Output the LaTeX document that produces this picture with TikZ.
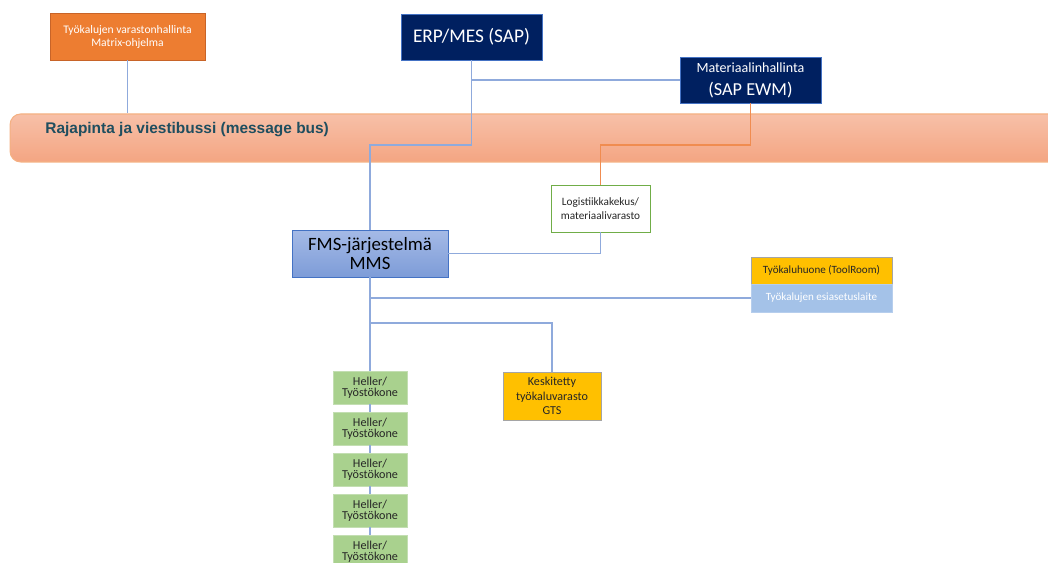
\documentclass[tikz,border=0pt]{standalone}
\usepackage{fontspec}
\setmainfont{Carlito}
\newfontfamily\busfont{Liberation Sans}
\usetikzlibrary{positioning,calc}

\definecolor{navy}{RGB}{0,32,96}
\definecolor{navyline}{RGB}{68,114,196}
\definecolor{matrixor}{RGB}{237,125,49}
\definecolor{matrixline}{RGB}{200,100,40}
\definecolor{linkblue}{RGB}{143,170,220}
\definecolor{linkor}{RGB}{240,140,80}
\definecolor{bustop}{RGB}{247,192,168}
\definecolor{busbot}{RGB}{244,165,130}
\definecolor{busline}{RGB}{244,177,131}
\definecolor{bustext}{RGB}{31,78,95}
\definecolor{fmstop}{RGB}{165,186,230}
\definecolor{fmsbot}{RGB}{125,156,216}
\definecolor{logiline}{RGB}{112,173,71}
\definecolor{toolyel}{RGB}{255,192,0}
\definecolor{graybd}{RGB}{165,165,165}
\definecolor{presetbl}{RGB}{164,194,232}
\definecolor{machgr}{RGB}{169,209,142}
\definecolor{machline}{RGB}{195,222,178}

\begin{document}
\begin{tikzpicture}[
  x=0.02cm, y=-0.02cm,
  box/.style={draw, line width=0.5pt, align=center, inner sep=1pt},
  sys/.style={box, fill=navy, draw=navyline, text=white, minimum width=2.82cm, minimum height=0.92cm},
  matrix box/.style={box, fill=matrixor, draw=matrixline, text=white, minimum width=3.1cm, minimum height=0.94cm,
    font=\fontsize{6.6}{7.4}\selectfont},
  bus/.style={draw=busline, line width=0.6pt, rounded corners=6pt, top color=bustop, bottom color=busbot,
    minimum width=21cm, minimum height=0.96cm},
  buslbl/.style={font=\busfont\bfseries\fontsize{8.8}{10}\selectfont, text=bustext, inner sep=0pt},
  logi/.style={box, fill=white, draw=logiline, text=black!85, minimum width=1.98cm, minimum height=0.94cm,
    font=\fontsize{6.4}{8}\selectfont},
  fms/.style={box, draw=navyline, top color=fmstop, bottom color=fmsbot, text=black, minimum width=3.12cm,
    minimum height=0.94cm, font=\fontsize{10.7}{10.4}\selectfont},
  tool/.style={box, fill=toolyel, draw=graybd, text=black!85, minimum width=2.82cm, minimum height=0.54cm,
    font=\fontsize{6.3}{7}\selectfont},
  preset/.style={box, fill=presetbl, draw=presetbl!80!white, text=white, minimum width=2.82cm, minimum height=0.56cm,
    font=\fontsize{6.3}{7}\selectfont},
  gts/.style={box, fill=toolyel, draw=graybd, text=black!85, minimum width=1.96cm, minimum height=0.96cm,
    font=\fontsize{6.9}{8.2}\selectfont},
  mach/.style={box, fill=machgr, draw=machline, text=black!85, minimum width=1.48cm, minimum height=0.66cm,
    font=\fontsize{6.9}{6.4}\selectfont},
  link/.style={draw=linkblue, line width=0.6pt},
  orlink/.style={draw=linkor, line width=0.6pt},
]
\useasboundingbox (0,0) rectangle (1048,563);
\clip (0,0) rectangle (1048,563);
% ---- message bus ----
\node[bus] (bus) at (535,138) {};
\node[buslbl, anchor=west] (buslabel) at (45,130) {Rajapinta ja viestibussi (message bus)};
% ---- top systems ----
\node[matrix box] (matrix) at (127.5,36.5) {Työkalujen varastonhallinta\\Matrix-ohjelma};
\node[sys, font=\fontsize{11}{12}\selectfont] (erp) at (471.5,37) {ERP/MES (SAP)};
\node[sys] (ewm) at (750.5,80)
  {{\fontsize{8}{9}\selectfont Materiaalinhallinta}\\[1pt]{\fontsize{10.4}{11}\selectfont (SAP EWM)}};
% ---- middle ----
\node[logi] (logi) at (600.5,208.5) {Logistiikkakekus/\\materiaalivarasto};
\node[fms] (fms) at (370,253.5) {FMS-järjestelmä\\MMS};
\node[tool] (tool) at (821.5,270.5) {Työkaluhuone (ToolRoom)};
\node[preset] (preset) at (821.5,298) {Työkalujen esiasetuslaite};
\node[gts] (gts) at (552,396) {Keskitetty\\työkaluvarasto\\GTS};
% ---- machines ----
\foreach \i in {1,...,5}
  \node[mach] (m\i) at (370,{387.5+41*(\i-1)}) {Heller/\\Työstökone};
% ---- connectors ----
\coordinate (j1) at (370,145);
\coordinate (j2) at (600.5,145);
\coordinate (j3) at (370,323);
\draw[link] (matrix.south) -- (matrix.south |- bus.north);
\draw[link] (erp.south) |- (j1) -- (fms.north);
\draw[link] (erp.south |- ewm.west) -- (ewm.west);
\draw[orlink] (ewm.south) |- (j2) -- (logi.north);
\draw[link] (fms.east) -| (logi.south);
\draw[link] (fms.south) |- (preset.west);
\draw[link] (j3) -| (gts.north);
\draw[link] (fms.south) -- (m1.north);
\foreach \i [count=\j from 2] in {1,...,4} \draw[link] (m\i) -- (m\j);
\end{tikzpicture}
\end{document}
